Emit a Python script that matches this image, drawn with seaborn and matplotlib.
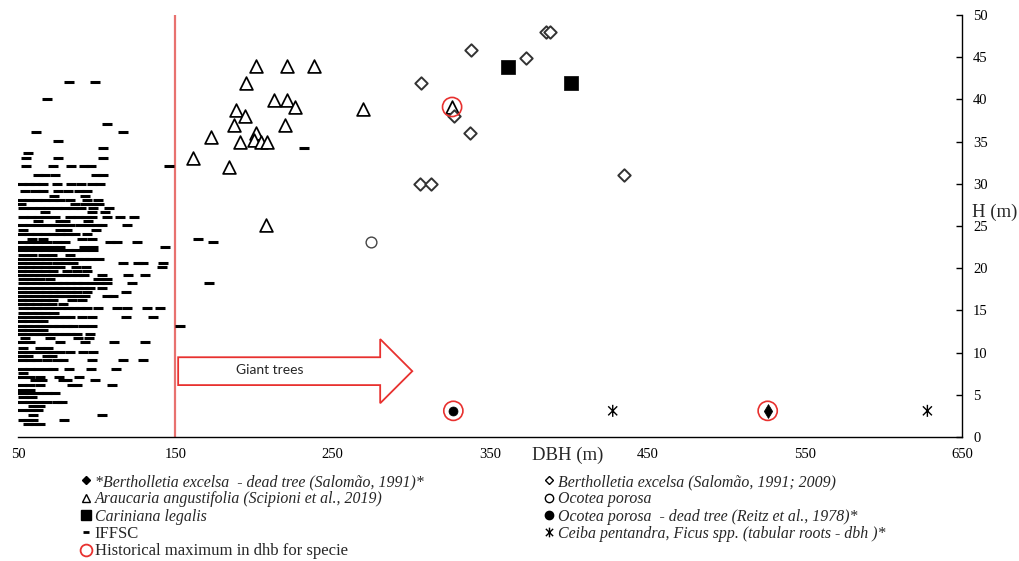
import numpy as np
import pandas as pd
import matplotlib
matplotlib.use("Agg")
import matplotlib.pyplot as plt
import seaborn as sns
from matplotlib.lines import Line2D
from matplotlib.patches import FancyArrow
from matplotlib.path import Path
from matplotlib.markers import MarkerStyle

# ---------------- data ----------------
x_ticks = [50, 150, 250, 350, 450, 550, 650]
y_ticks = [0, 5, 10, 15, 20, 25, 30, 35, 40, 45, 50]

araucaria_dbh = [201.4, 221.1, 238.0, 195.0, 212.9, 220.9, 225.8, 188.7, 194.5, 187.2, 220.0,
                 201.4, 200.1, 172.8, 191.4, 204.5, 208.0, 161.1, 184.4, 207.5, 269.0, 325.9]
araucaria_h = [43.9, 43.9, 43.9, 41.9, 39.9, 39.9, 39.1, 38.7, 38.0, 37.0, 37.0,
               36.05, 35.2, 35.5, 35.0, 35.0, 35.0, 33.0, 32.0, 25.1, 38.9, 39.1]

berth_dbh = [305.3, 312.7, 306.4, 337.7, 373.0, 385.9, 388.2, 327.4, 337.1, 434.9]
berth_h = [30.0, 30.0, 41.9, 45.9, 44.9, 48.0, 48.0, 38.0, 36.05, 31.0]

cariniana_dbh = [361.3, 401.6]
cariniana_h = [43.8, 41.9]

ocotea_dbh = [274.6]
ocotea_h = [23.1]

ocotea_dead_dbh = [326.7]
ocotea_dead_h = [3.1]

berth_dead_dbh = [526.5]
berth_dead_h = [3.1]

ceiba_dbh = [428.0, 628.0]
ceiba_h = [3.1, 3.1]

histmax_dbh = [325.9, 326.7, 526.5]
histmax_h = [39.1, 3.1, 3.1]

# IFFSC inventory: (height, [dbh values]) read row by row
iffsc_rows = [
    (42.1, [82.6, 98.9]),
    (40.0, [68.2]),
    (37.1, [106.4]),
    (36.1, [61.5, 117.0]),
    (35.1, [75.6]),
    (34.3, [103.9, 231.5]),
    (33.6, [56.6]),
    (33.1, [55.3, 75.6, 104.3]),
    (32.1, [55.0, 72.0, 83.5, 92.0, 96.2, 146.0]),
    (31.1, [63.0, 67.2, 73.3, 99.4, 104.3]),
    (30.0, [52.5, 57.0, 61.0, 66.0, 74.6, 83.7, 90.3, 96.8, 102.2]),
    (29.1, [54.4, 60.8, 66.1, 75.6, 82.0, 88.8, 94.1]),
    (28.6, [72.7, 92.6]),
    (28.1, [52.0, 57.0, 62.0, 67.0, 72.0, 77.0, 83.0, 93.7, 101.1]),
    (27.6, [51.7, 86.2, 92.6, 96.9, 101.7]),
    (27.1, [53.4, 58.7, 64.0, 69.3, 74.6, 79.9, 85.0, 90.0, 97.9, 108.1]),
    (26.6, [67.0, 97.3, 105.5]),
    (26.1, [53.4, 58.0, 63.0, 68.0, 73.5, 83.0, 88.0, 93.0, 96.8, 106.4, 114.9, 123.8]),
    (25.6, [63.0, 76.7, 79.9, 94.7]),
    (25.1, [52.3, 57.6, 63.0, 68.2, 73.5, 78.8, 83.0, 89.4, 95.0, 100.0, 103.2, 119.5]),
    (24.5, [53.4, 76.7, 81.4, 99.8]),
    (24.0, [52.0, 57.0, 62.0, 67.0, 72.0, 77.0, 82.0, 86.0, 93.7]),
    (23.5, [58.7, 66.1, 90.9, 96.9, 164.7]),
    (23.1, [52.3, 57.6, 63.0, 68.2, 74.6, 79.9, 108.5, 112.8, 125.5, 174.2]),
    (22.5, [52.3, 57.0, 62.0, 67.0, 72.0, 77.0, 92.0, 97.9, 143.5]),
    (22.1, [52.3, 57.0, 62.0, 67.0, 72.0, 77.0, 82.0, 87.0, 92.0, 97.9]),
    (21.6, [53.4, 58.7, 66.1, 71.4, 83.1]),
    (21.05, [52.0, 56.0, 60.0, 64.0, 68.0, 72.0, 76.0, 80.0, 84.0, 88.0, 92.0, 96.0, 101.5]),
    (20.6, [52.3, 57.6, 63.0, 68.2, 74.6, 80.0, 85.0, 117.0, 126.5, 129.7, 142.4]),
    (20.2, [52.0, 57.0, 62.0, 67.0, 72.0, 77.0, 87.0, 93.0, 141.8]),
    (19.7, [52.0, 57.0, 62.0, 67.0, 72.0, 81.0, 87.3, 93.7]),
    (19.2, [52.0, 56.0, 60.0, 64.0, 68.0, 72.0, 76.0, 80.0, 84.0, 88.0, 92.0, 103.6, 120.2, 130.8]),
    (18.7, [53.4, 58.7, 64.0, 70.3, 101.1, 106.4]),
    (18.2, [53.4, 57.6, 61.9, 66.1, 70.3, 74.6, 78.8, 83.1, 87.3, 91.5, 96.9, 102.2, 106.4, 122.3, 171.7]),
    (17.7, [52.0, 56.0, 60.0, 64.0, 68.0, 72.0, 76.0, 80.0, 84.0, 88.0, 92.0, 96.0, 103.6]),
    (17.2, [52.3, 57.6, 63.0, 68.2, 73.5, 77.1, 83.1, 87.3, 93.7, 118.5]),
    (16.7, [52.0, 56.0, 60.0, 64.0, 68.0, 72.0, 76.0, 80.0, 84.0, 88.0, 92.6, 106.4, 110.6]),
    (16.2, [52.0, 57.0, 62.0, 67.0, 72.0, 84.1, 90.5]),
    (15.7, [52.3, 57.0, 62.0, 67.0, 71.4, 78.6]),
    (15.25, [53.4, 57.5, 61.5, 65.5, 69.5, 73.5, 77.5, 81.5, 85.5, 89.5, 94.0, 101.1, 112.8, 119.5, 131.8, 140.3]),
    (14.65, [53.4, 58.7, 63.0, 67.0, 72.9]),
    (14.2, [52.0, 56.0, 60.0, 64.0, 68.0, 72.0, 76.0, 80.0, 83.0, 90.5, 96.9, 118.5, 136.1]),
    (13.7, [52.3, 57.0, 62.0, 66.1]),
    (13.2, [52.0, 56.0, 60.0, 64.0, 68.0, 72.0, 76.0, 80.9, 85.2, 91.5, 96.9, 153.0]),
    (12.7, [52.3, 57.0, 62.0, 66.0]),
    (12.2, [52.0, 56.0, 60.0, 64.0, 68.0, 72.0, 76.0, 80.0, 83.1, 87.3, 95.8]),
    (11.7, [54.4, 70.3, 88.0, 95.0]),
    (11.2, [52.3, 57.6, 76.7, 92.6, 111.1, 130.8]),
    (10.6, [53.4, 64.0, 69.3]),
    (10.1, [52.3, 57.0, 62.0, 67.0, 72.0, 77.0, 83.1, 91.5, 97.9]),
    (9.6, [52.3, 56.6, 68.2, 71.4]),
    (9.1, [52.3, 57.6, 61.9, 68.2, 74.6, 78.8, 96.9, 117.0, 129.7]),
    (8.1, [52.3, 57.6, 62.9, 68.2, 72.5, 82.4, 96.2, 112.1]),
    (7.6, [53.4]),
    (7.15, [52.3, 57.6, 64.0, 76.3, 88.8]),
    (6.7, [60.8, 65.0, 78.8, 81.4, 99.2]),
    (6.2, [52.3, 57.6, 64.0, 84.1, 87.3, 109.8]),
    (5.6, [52.3, 57.6]),
    (5.2, [52.3, 57.6, 62.9, 68.2, 73.5]),
    (4.7, [53.4, 58.7]),
    (4.2, [52.3, 57.6, 62.9, 68.2, 74.6, 77.8]),
    (3.7, [59.7, 64.0]),
    (3.2, [52.3, 57.6, 62.9]),
    (2.6, [59.7, 103.6]),
    (2.0, [53.4, 56.6, 59.7, 79.3]),
    (1.5, [56.6, 60.8, 64.0]),
]
iffsc = pd.DataFrame([(d, h) for h, ds in iffsc_rows for d in ds], columns=["dbh", "h"])

labels_left = ["*Bertholletia excelsa  - dead tree (Salomão, 1991)*",
               "Araucaria angustifolia (Scipioni et al., 2019)",
               "Cariniana legalis",
               "IFFSC",
               "Historical maximum in dhb for specie"]
labels_right = ["Bertholletia excelsa (Salomão, 1991; 2009)",
                "Ocotea porosa",
                "Ocotea porosa  - dead tree (Reitz et al., 1978)*",
                "Ceiba pentandra, Ficus spp. (tabular roots - dbh )*"]

# ---------------- style ----------------
sns.set_style("white")
plt.rcParams["font.family"] = ["Liberation Serif", "DejaVu Serif"]

RED_LINE = "#E8716F"
RED = "#E8312F"

fig = plt.figure(figsize=(10.2, 5.61), dpi=100)
ax = fig.add_axes([0.01765, 0.22103, 0.92549, 0.75223])

# asterisk-like marker (vertical bar + X)
star_path = Path([(0, -1), (0, 1), (-0.75, -0.75), (0.75, 0.75), (-0.75, 0.75), (0.75, -0.75)],
                 [Path.MOVETO, Path.LINETO, Path.MOVETO, Path.LINETO, Path.MOVETO, Path.LINETO])
star_marker = MarkerStyle(star_path)

ax.axvline(150, color=RED_LINE, lw=1.6, zorder=1)

sns.scatterplot(data=iffsc, x="dbh", y="h", marker="_", color="black", s=42,
                linewidth=2.2, ax=ax, zorder=3, legend=False)
sns.scatterplot(x=araucaria_dbh, y=araucaria_h, marker="^", color="black", facecolor="white",
                edgecolor="black", s=85, linewidth=1.25, ax=ax, zorder=4, legend=False)
sns.scatterplot(x=berth_dbh, y=berth_h, marker="D", color="black", facecolor="white",
                edgecolor="#333333", s=40, linewidth=1.4, ax=ax, zorder=4, legend=False)
sns.scatterplot(x=cariniana_dbh, y=cariniana_h, marker="s", color="black", edgecolor="black",
                s=90, linewidth=0.5, ax=ax, zorder=4, legend=False)
sns.scatterplot(x=ocotea_dbh, y=ocotea_h, marker="o", color="black", facecolor="white",
                edgecolor="#444444", s=60, linewidth=1.0, ax=ax, zorder=4, legend=False)
sns.scatterplot(x=ocotea_dead_dbh, y=ocotea_dead_h, marker="o", color="black", edgecolor="black",
                s=42, linewidth=0.5, ax=ax, zorder=4, legend=False)
sns.scatterplot(x=berth_dead_dbh, y=berth_dead_h, marker="d", color="black", edgecolor="black",
                s=50, linewidth=0.5, ax=ax, zorder=4, legend=False)
sns.scatterplot(x=ceiba_dbh, y=ceiba_h, marker=star_marker, color="black", facecolor="none",
                edgecolor="black", s=75, linewidth=1.0, ax=ax, zorder=4, legend=False)
sns.scatterplot(x=histmax_dbh, y=histmax_h, marker="o", color=RED, facecolor="none",
                edgecolor=RED, s=190, linewidth=1.2, ax=ax, zorder=5, legend=False)

# Giant trees arrow
arrow = FancyArrow(151.8, 7.8, 148.8, 0, width=3.3, head_width=7.6, head_length=20.4,
                   length_includes_head=True, facecolor="white", edgecolor=RED, lw=1.3, zorder=2)
ax.add_patch(arrow)
ax.text(209.7, 7.9, "Giant trees", family="Lato", fontsize=10, ha="center", va="center", zorder=3)

# axes
ax.set_xlim(50, 650)
ax.set_ylim(0, 50)
ax.set_xticks(x_ticks)
ax.set_yticks(y_ticks)
ax.yaxis.tick_right()
ax.tick_params(axis="both", direction="in", length=4, width=1, color="black",
               labelsize=10.5, labelcolor="black")
ax.tick_params(axis="x", pad=8)
ax.tick_params(axis="y", pad=8)
for side in ["left", "top"]:
    ax.spines[side].set_visible(False)
for side in ["bottom", "right"]:
    ax.spines[side].set_visible(True)
    ax.spines[side].set_color("black")
    ax.spines[side].set_linewidth(1.0)
ax.set_xlabel("")
ax.set_ylabel("")

fig.text(568 / 1020, 1 - 455 / 561, "DBH (m)", fontsize=13.5, ha="center", va="center")
fig.text(972 / 1020, 1 - 212 / 561, "H (m)", fontsize=13.5, ha="left", va="center")

# legends
h_left = [
    Line2D([], [], ls="none", marker="D", ms=4, color="black"),
    Line2D([], [], ls="none", marker="^", ms=6, mfc="white", mec="black", mew=1.0),
    Line2D([], [], ls="none", marker="s", ms=6.5, color="black"),
    Line2D([], [], ls="none", marker="_", ms=5, mew=2, color="black"),
    Line2D([], [], ls="none", marker="o", ms=8.5, mfc="none", mec=RED, mew=1.3),
]
h_right = [
    Line2D([], [], ls="none", marker="D", ms=4, mfc="white", mec="black", mew=1.0),
    Line2D([], [], ls="none", marker="o", ms=6, mfc="white", mec="black", mew=1.0),
    Line2D([], [], ls="none", marker="o", ms=6, color="black"),
    Line2D([], [], ls="none", marker=star_marker, ms=7, mfc="none", mec="black", mew=1.0),
]
common = dict(frameon=False, fontsize=12, handlelength=0.6, handletextpad=0.25,
              labelspacing=0.08, borderpad=0, borderaxespad=0, loc="upper left")
leg1 = fig.legend(h_left, labels_left, bbox_to_anchor=(0.079, 0.155), **common)
leg2 = fig.legend(h_right, labels_right, bbox_to_anchor=(0.533, 0.155), **common)
for i, t in enumerate(leg1.get_texts()):
    if i < 3:
        t.set_style("italic")
        t.set_fontsize(11.4)
for t in leg2.get_texts():
    t.set_style("italic")
    t.set_fontsize(11.4)

fig.savefig("out.png", dpi=100)
